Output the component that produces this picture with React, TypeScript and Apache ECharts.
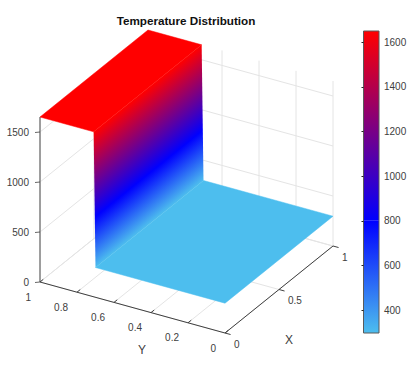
import React, { useEffect, useRef } from "react";
import * as echarts from "echarts";

const TITLE = "Temperature Distribution";
const xTicks = [0, 0.5, 1];
const xTickLabels = ["0", "0.5", "1"];
const yTicks = [1, 0.8, 0.6, 0.4, 0.2, 0];
const yTickLabels = ["1", "0.8", "0.6", "0.4", "0.2", "0"];
const zTicks = [0, 500, 1000, 1500];
const zTickLabels = ["0", "500", "1000", "1500"];
const colorbarTicks = [400, 600, 800, 1000, 1200, 1400, 1600];

// Temperature profile across Y (uniform along X)
const surfaceY = [1, 0.71, 0.7, 0];
const surfaceT = [1650, 1650, 298, 298];

// Colormap
const cmapValues = [298, 800, 1650];
const cmapColors = ["#4DBEEE", "#0000FF", "#FF0000"];

const Z_MAX = 1650;
const INK = "#404040";
const FONT = "'Liberation Sans', Arial, sans-serif";

const project = (x: number, y: number, z: number): [number, number] => [
  225 + 108 * x - 185 * y,
  333 - 87 * x - 51 * y - 0.1 * z,
];

type Seg = [number, number, number, number, number, number];

const gridSegs: Seg[] = [];
zTicks.forEach((z) => {
  gridSegs.push([0, 1, z, 1, 1, z]);
  gridSegs.push([1, 0, z, 1, 1, z]);
});
xTicks.forEach((x) => {
  gridSegs.push([x, 0, 0, x, 1, 0]);
  gridSegs.push([x, 1, 0, x, 1, Z_MAX]);
});
yTicks.forEach((y) => {
  gridSegs.push([0, y, 0, 1, y, 0]);
  gridSegs.push([1, y, 0, 1, y, Z_MAX]);
});

const axisSegs: Seg[] = [
  [0, 1, 0, 0, 0, 0],
  [0, 0, 0, 1, 0, 0],
];
yTicks.forEach((y) => axisSegs.push([0, y, 0, 0.03, y, 0]));
xTicks.forEach((x) => axisSegs.push([x, 0, 0, x, -0.03, 0]));

const tempColor = (t: number) => {
  const hex = (c: string) => [1, 3, 5].map((i) => parseInt(c.slice(i, i + 2), 16));
  let i = 0;
  while (i < cmapValues.length - 2 && t > cmapValues[i + 1]) i++;
  const f = Math.max(0, Math.min(1, (t - cmapValues[i]) / (cmapValues[i + 1] - cmapValues[i])));
  const a = hex(cmapColors[i]);
  const b = hex(cmapColors[i + 1]);
  return `rgb(${a.map((v, k) => Math.round(v + (b[k] - v) * f)).join(",")})`;
};

const surfaceQuads = surfaceY.slice(0, -1).map((y, i) => [y, surfaceY[i + 1], surfaceT[i], surfaceT[i + 1]]);

const lineItem = (color: string, width: number) => (_: any, api: any) => {
  const a = api.coord(project(api.value(0), api.value(1), api.value(2)));
  const b = api.coord(project(api.value(3), api.value(4), api.value(5)));
  return {
    type: "line",
    shape: { x1: a[0], y1: a[1], x2: b[0], y2: b[1] },
    style: { stroke: color, lineWidth: width },
    silent: true,
  };
};

const surfaceItem = (_: any, api: any) => {
  const y1 = api.value(0);
  const y2 = api.value(1);
  const t1 = api.value(2);
  const t2 = api.value(3);
  const pts = [
    api.coord(project(0, y1, t1)),
    api.coord(project(1, y1, t1)),
    api.coord(project(1, y2, t2)),
    api.coord(project(0, y2, t2)),
  ];
  let fill: any = tempColor(t1);
  if (t1 !== t2) {
    // Gradient vector perpendicular to the iso-temperature lines of the plane
    const [A, B, C] = [pts[0], pts[1], pts[3]];
    const ux = B[0] - A[0];
    const uy = B[1] - A[1];
    const nx = -uy;
    const ny = ux;
    const k = ((C[0] - A[0]) * nx + (C[1] - A[1]) * ny) / (nx * nx + ny * ny);
    const stops = [t1, ...cmapValues.filter((v) => v < Math.max(t1, t2) && v > Math.min(t1, t2)), t2];
    fill = new echarts.graphic.LinearGradient(
      A[0],
      A[1],
      A[0] + nx * k,
      A[1] + ny * k,
      stops.map((t) => ({ offset: (t - t1) / (t2 - t1), color: tempColor(t) })),
      true
    );
  }
  return {
    type: "polygon",
    shape: { points: pts },
    style: { fill, stroke: t1 === t2 ? tempColor(t1) : "none", lineWidth: 0.5 },
    silent: true,
  };
};

const textEl = (p: number[], text: string, align: string, size = 10, weight = "normal") => ({
  type: "text",
  x: p[0],
  y: p[1],
  style: {
    text,
    fill: weight === "bold" ? "#111" : INK,
    font: `${weight} ${size}px ${FONT}`,
    textAlign: align,
    textVerticalAlign: "middle",
  },
  silent: true,
});

const labelData = [
  ...zTicks.map((z, i) => ["z", z, zTickLabels[i]]),
  ...yTicks.map((y, i) => ["y", y, yTickLabels[i]]),
  ...xTicks.map((x, i) => ["x", x, xTickLabels[i]]),
];

const labelItem = (params: any, api: any) => {
  const [kind, v, text] = labelData[params.dataIndex] as [string, number, string];
  if (kind === "z") {
    const p = project(0, 1, v);
    const c = api.coord(p);
    const t0 = api.coord([p[0] - 5, p[1]]);
    return {
      type: "group",
      children: [
        textEl([c[0] - 11, c[1]], text, "right"),
        { type: "line", shape: { x1: t0[0], y1: t0[1] + 0.5, x2: c[0], y2: c[1] }, style: { stroke: INK, lineWidth: 0.8 } },
      ],
    };
  }
  if (kind === "y") {
    const p = api.coord(project(0, v, 0));
    return textEl([p[0] - 9, p[1] + 15], text, "right");
  }
  const p = api.coord(project(v, 0, 0));
  return textEl([p[0] + 9, p[1] + 11], text, "left");
};

const colorbarData = cmapValues.slice(0, -1).map((v, i) => [v, cmapValues[i + 1]]);

const colorbarItem = (_: any, api: any) => {
  const lo = api.value(0);
  const hi = api.value(1);
  const a = api.coord([0, hi]);
  const b = api.coord([1, lo]);
  return {
    type: "rect",
    shape: { x: a[0], y: a[1], width: b[0] - a[0], height: b[1] - a[1] },
    style: {
      fill: new echarts.graphic.LinearGradient(0, 1, 0, 0, [
        { offset: 0, color: tempColor(lo) },
        { offset: 1, color: tempColor(hi) },
      ]),
    },
    silent: true,
  };
};

const colorbarBoxItem = (_: any, api: any) => {
  const a = api.coord([0, api.value(1)]);
  const b = api.coord([1, api.value(0)]);
  return {
    type: "rect",
    shape: { x: a[0], y: a[1], width: b[0] - a[0], height: b[1] - a[1] },
    style: { fill: "none", stroke: "#5a5a5a", lineWidth: 1 },
    silent: true,
  };
};

export default function App() {
  const ref = useRef<HTMLDivElement>(null);
  useEffect(() => {
    const chart = echarts.init(ref.current!, undefined, { renderer: "svg" });
    const hidden = { show: false, axisLine: { show: false }, splitLine: { show: false } };
    chart.setOption({
      animation: false,
      backgroundColor: "#fff",
      title: {
        text: TITLE,
        left: 186,
        top: 14,
        textAlign: "center",
        textStyle: { fontFamily: FONT, fontSize: 11.7, fontWeight: "bold", color: "#111" },
        padding: 0,
      },
      grid: [
        { left: 0, top: 0, width: 414, height: 367 },
        { left: 363.5, top: 31, width: 15.5, height: 302 },
      ],
      xAxis: [
        { type: "value", gridIndex: 0, min: 0, max: 414, ...hidden },
        { type: "value", gridIndex: 1, min: 0, max: 1, ...hidden },
      ],
      yAxis: [
        { type: "value", gridIndex: 0, min: 0, max: 367, inverse: true, ...hidden },
        {
          type: "value",
          gridIndex: 1,
          min: cmapValues[0],
          max: cmapValues[cmapValues.length - 1],
          position: "right",
          z: 10,
          axisLine: { show: false },
          splitLine: { show: false },
          axisTick: {
            show: true,
            inside: true,
            length: 2,
            lineStyle: { color: "#222", width: 1 },
            customValues: colorbarTicks,
          },
          axisLabel: {
            show: true,
            margin: 5,
            fontFamily: FONT,
            fontSize: 10,
            color: INK,
            customValues: colorbarTicks,
            formatter: (v: number) => String(v),
          },
        },
      ],
      series: [
        {
          type: "custom",
          xAxisIndex: 0,
          yAxisIndex: 0,
          clip: false,
          z: 1,
          renderItem: lineItem("#e4e4e4", 1),
          data: gridSegs,
          encode: { x: 0, y: 1 },
        },
        {
          type: "custom",
          xAxisIndex: 0,
          yAxisIndex: 0,
          clip: false,
          z: 2,
          renderItem: surfaceItem,
          data: surfaceQuads,
          encode: { x: 0, y: 1 },
        },
        {
          type: "custom",
          xAxisIndex: 0,
          yAxisIndex: 0,
          clip: false,
          z: 3,
          renderItem: lineItem(INK, 1),
          data: axisSegs,
          encode: { x: 0, y: 1 },
        },
        {
          type: "custom",
          xAxisIndex: 0,
          yAxisIndex: 0,
          clip: false,
          z: 1,
          renderItem: lineItem("#666", 1.2),
          data: [[0, 1, 0, 0, 1, Z_MAX]],
          encode: { x: 0, y: 1 },
        },
        {
          type: "custom",
          xAxisIndex: 0,
          yAxisIndex: 0,
          clip: false,
          z: 4,
          renderItem: labelItem,
          data: labelData.map((_, i) => [i]),
          encode: { x: 0 },
        },
        {
          type: "custom",
          xAxisIndex: 1,
          yAxisIndex: 1,
          z: 2,
          renderItem: colorbarItem,
          data: colorbarData,
          encode: { y: [0, 1] },
        },
        {
          type: "custom",
          xAxisIndex: 1,
          yAxisIndex: 1,
          z: 3,
          clip: false,
          renderItem: colorbarBoxItem,
          data: [[cmapValues[0], cmapValues[cmapValues.length - 1]]],
          encode: { y: [0, 1] },
        },
      ],
      graphic: [
        textEl([142, 350], "Y", "center", 12),
        textEl([289, 340], "X", "center", 12),
      ],
    });
    return () => chart.dispose();
  }, []);
  return <div ref={ref} style={{ position: "fixed", left: 0, top: 0, width: 414, height: 367 }} />;
}
